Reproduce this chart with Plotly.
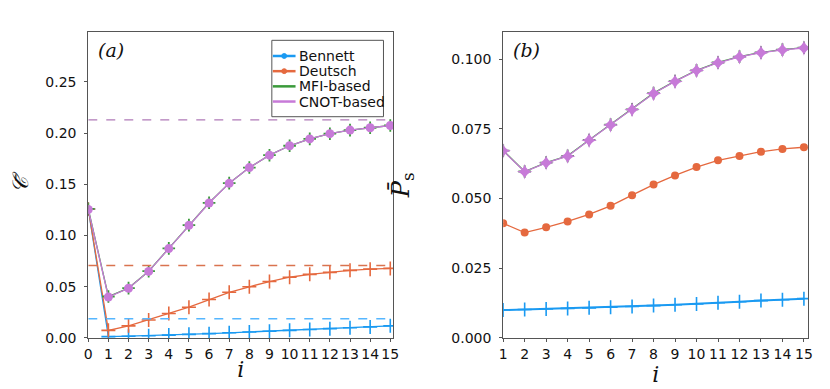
import plotly.graph_objects as go

# panel (a): average coherence vs step i
steps_a = list(range(0, 16))
bennett_a = [0.126, 0.0013, 0.0017, 0.0022, 0.0028, 0.0035, 0.0042, 0.0050, 0.0058,
             0.0066, 0.0074, 0.0083, 0.0091, 0.0100, 0.0108, 0.0118]
deutsch_a = [0.126, 0.0074, 0.0118, 0.0175, 0.0239, 0.0300, 0.0376, 0.0446, 0.0500,
             0.0551, 0.0593, 0.0621, 0.0640, 0.0660, 0.0672, 0.0679]
mfi_a = [0.126, 0.0405, 0.0487, 0.0652, 0.0875, 0.1102, 0.1320, 0.1512, 0.1664,
         0.1785, 0.1877, 0.1944, 0.1995, 0.2030, 0.2053, 0.2075]
cnot_a = [0.1255, 0.0400, 0.0485, 0.0650, 0.0873, 0.1100, 0.1318, 0.1510, 0.1664,
          0.1785, 0.1877, 0.1944, 0.1995, 0.2030, 0.2053, 0.2075]
limits_a = {"Bennett": 0.0188, "Deutsch": 0.0707, "CNOT": 0.2130}

# panel (b): average success probability
steps_b = list(range(1, 16))
bennett_b = [0.0100, 0.0102, 0.0104, 0.0106, 0.0108, 0.0110, 0.0113, 0.0116,
             0.0119, 0.0122, 0.0126, 0.0130, 0.0134, 0.0137, 0.0141]
deutsch_b = [0.0411, 0.0378, 0.0397, 0.0418, 0.0443, 0.0474, 0.0512, 0.0550,
             0.0583, 0.0613, 0.0637, 0.0653, 0.0668, 0.0678, 0.0684]
mfi_b = [0.0672, 0.0597, 0.0629, 0.0653, 0.0710, 0.0765, 0.0820, 0.0878,
         0.0921, 0.0960, 0.0988, 0.1009, 0.1024, 0.1034, 0.1041]
cnot_b = [0.0671, 0.0596, 0.0628, 0.0652, 0.0709, 0.0764, 0.0819, 0.0877,
          0.0920, 0.0959, 0.0987, 0.1008, 0.1023, 0.1033, 0.1040]

legend_names = ["Bennett", "Deutsch", "MFI-based", "CNOT-based"]

BLUE, ORANGE, GREEN, PURPLE = "#1a9af2", "#e5693f", "#3a9a3a", "#c77ad8"
DASH_COL = {"Bennett": "#55b6ff", "Deutsch": "#d9734f", "CNOT": "#b07ab8"}
FRAME = "#555555"
INK = "#111111"
W, H = 830, 389

fig = go.Figure()

# panel (a)
fig.add_trace(go.Scatter(x=steps_a, y=bennett_a, mode="lines+markers",
                         line=dict(color=BLUE, width=1.3),
                         marker=dict(symbol="cross-thin", size=10, line=dict(color=BLUE, width=1.6)),
                         xaxis="x", yaxis="y"))
fig.add_trace(go.Scatter(x=steps_a, y=deutsch_a, mode="lines+markers",
                         line=dict(color=ORANGE, width=1.3),
                         marker=dict(symbol="cross-thin", size=10, line=dict(color=ORANGE, width=1.6)),
                         xaxis="x", yaxis="y"))
fig.add_trace(go.Scatter(x=steps_a, y=mfi_a, mode="lines+markers",
                         line=dict(color=GREEN, width=1.3),
                         marker=dict(symbol="cross-thin", size=9, line=dict(color=GREEN, width=1.8)),
                         xaxis="x", yaxis="y"))
fig.add_trace(go.Scatter(x=steps_a, y=cnot_a, mode="lines+markers",
                         line=dict(color=PURPLE, width=1.3),
                         marker=dict(symbol="circle", size=9, color=PURPLE),
                         xaxis="x", yaxis="y"))
for name, val in limits_a.items():
    fig.add_trace(go.Scatter(x=[0, 15.15], y=[val, val], mode="lines",
                             line=dict(color=DASH_COL[name], width=1.4, dash="dash"),
                             xaxis="x", yaxis="y", hoverinfo="skip"))

# panel (b)
fig.add_trace(go.Scatter(x=steps_b, y=bennett_b, mode="lines+markers",
                         line=dict(color=BLUE, width=2),
                         marker=dict(symbol="cross-thin", size=10, line=dict(color=BLUE, width=1.6)),
                         xaxis="x2", yaxis="y2"))
fig.add_trace(go.Scatter(x=steps_b, y=deutsch_b, mode="lines+markers",
                         line=dict(color=ORANGE, width=1.3),
                         marker=dict(symbol="circle", size=8, color=ORANGE),
                         xaxis="x2", yaxis="y2"))
fig.add_trace(go.Scatter(x=steps_b, y=mfi_b, mode="lines+markers",
                         line=dict(color=GREEN, width=1.3),
                         marker=dict(symbol="cross-thin", size=9, line=dict(color=GREEN, width=1.8)),
                         xaxis="x2", yaxis="y2"))
fig.add_trace(go.Scatter(x=steps_b, y=cnot_b, mode="lines+markers",
                         line=dict(color=PURPLE, width=1.3),
                         marker=dict(symbol="star-diamond", size=11, color=PURPLE),
                         xaxis="x2", yaxis="y2"))

# hand-drawn legend box (panel a), in pixel positions converted to paper coords
def px(x):
    return x / W

def py(y):
    return 1 - y / H

shapes = [dict(type="rect", xref="paper", yref="paper", x0=px(263), x1=px(376),
               y0=py(111), y1=py(33), line=dict(color=FRAME, width=1), fillcolor="white",
               layer="above")]
annotations = []
row_y = [49, 64.5, 80, 95.5]
for name, col, yy in zip(legend_names, [BLUE, ORANGE, GREEN, PURPLE], row_y):
    shapes.append(dict(type="line", xref="paper", yref="paper", x0=px(264), x1=px(287),
                       y0=py(yy), y1=py(yy), line=dict(color=col, width=2.5), layer="above"))
    if name in ("Bennett", "Deutsch"):
        shapes.append(dict(type="circle", xref="paper", yref="paper", x0=px(273), x1=px(278),
                           y0=py(yy + 2.5), y1=py(yy - 2.5), line=dict(color=col, width=1),
                           fillcolor=col, layer="above"))
    annotations.append(dict(text=name, x=px(288), y=py(yy), xref="paper", yref="paper",
                            xanchor="left", yanchor="middle", showarrow=False,
                            font=dict(family="DejaVu Sans", size=14, color=INK)))

annotations += [
    dict(text="<i>(a)</i>", x=0.103, y=0.925, xref="paper", yref="paper", xanchor="left",
         yanchor="top", showarrow=False, font=dict(family="DejaVu Serif", size=19, color=INK)),
    dict(text="<i>(b)</i>", x=0.609, y=0.925, xref="paper", yref="paper", xanchor="left",
         yanchor="top", showarrow=False, font=dict(family="DejaVu Serif", size=19, color=INK)),
]

axis_common = dict(showline=True, linecolor=FRAME, linewidth=1, mirror=True, showgrid=False,
                   zeroline=False, ticks="outside", ticklen=3, tickcolor=FRAME,
                   tickfont=dict(family="DejaVu Sans", size=14, color=INK))
title_font = dict(family="DejaVu Serif", size=22, color=INK)

fig.update_layout(
    width=W, height=H, template="plotly_white", showlegend=False,
    margin=dict(l=0, r=0, t=0, b=0),
    plot_bgcolor="white", paper_bgcolor="white",
    font=dict(color=INK),
    xaxis=dict(domain=[0.093, 0.465], range=[0, 15.15], tickmode="array", tickvals=steps_a,
               title=dict(text="<i>i</i>", font=title_font, standoff=0),
               anchor="y", **axis_common),
    yaxis=dict(domain=[0.134, 0.9375], range=[0, 0.299], tickvals=[0, 0.05, 0.10, 0.15, 0.20, 0.25],
               tickformat=".2f", ticklabelstandoff=5,
               title=dict(text="<i>𝒞̄</i>", font=title_font, standoff=16),
               anchor="x", **axis_common),
    xaxis2=dict(domain=[0.599, 0.971], range=[1, 15.2], tickmode="array", tickvals=steps_b,
                title=dict(text="<i>i</i>", font=title_font, standoff=0),
                anchor="y2", **axis_common),
    yaxis2=dict(domain=[0.134, 0.9375], range=[0, 0.1098], tickvals=[0, 0.025, 0.05, 0.075, 0.1],
                tickformat=".3f", ticklabelstandoff=5,
                title=dict(text="<i>P̄</i><sub>s</sub>", font=dict(family="DejaVu Serif", size=24, color=INK),
                           standoff=34),
                anchor="x2", **axis_common),
    shapes=shapes,
    annotations=annotations,
)

fig.write_html("out.html")
